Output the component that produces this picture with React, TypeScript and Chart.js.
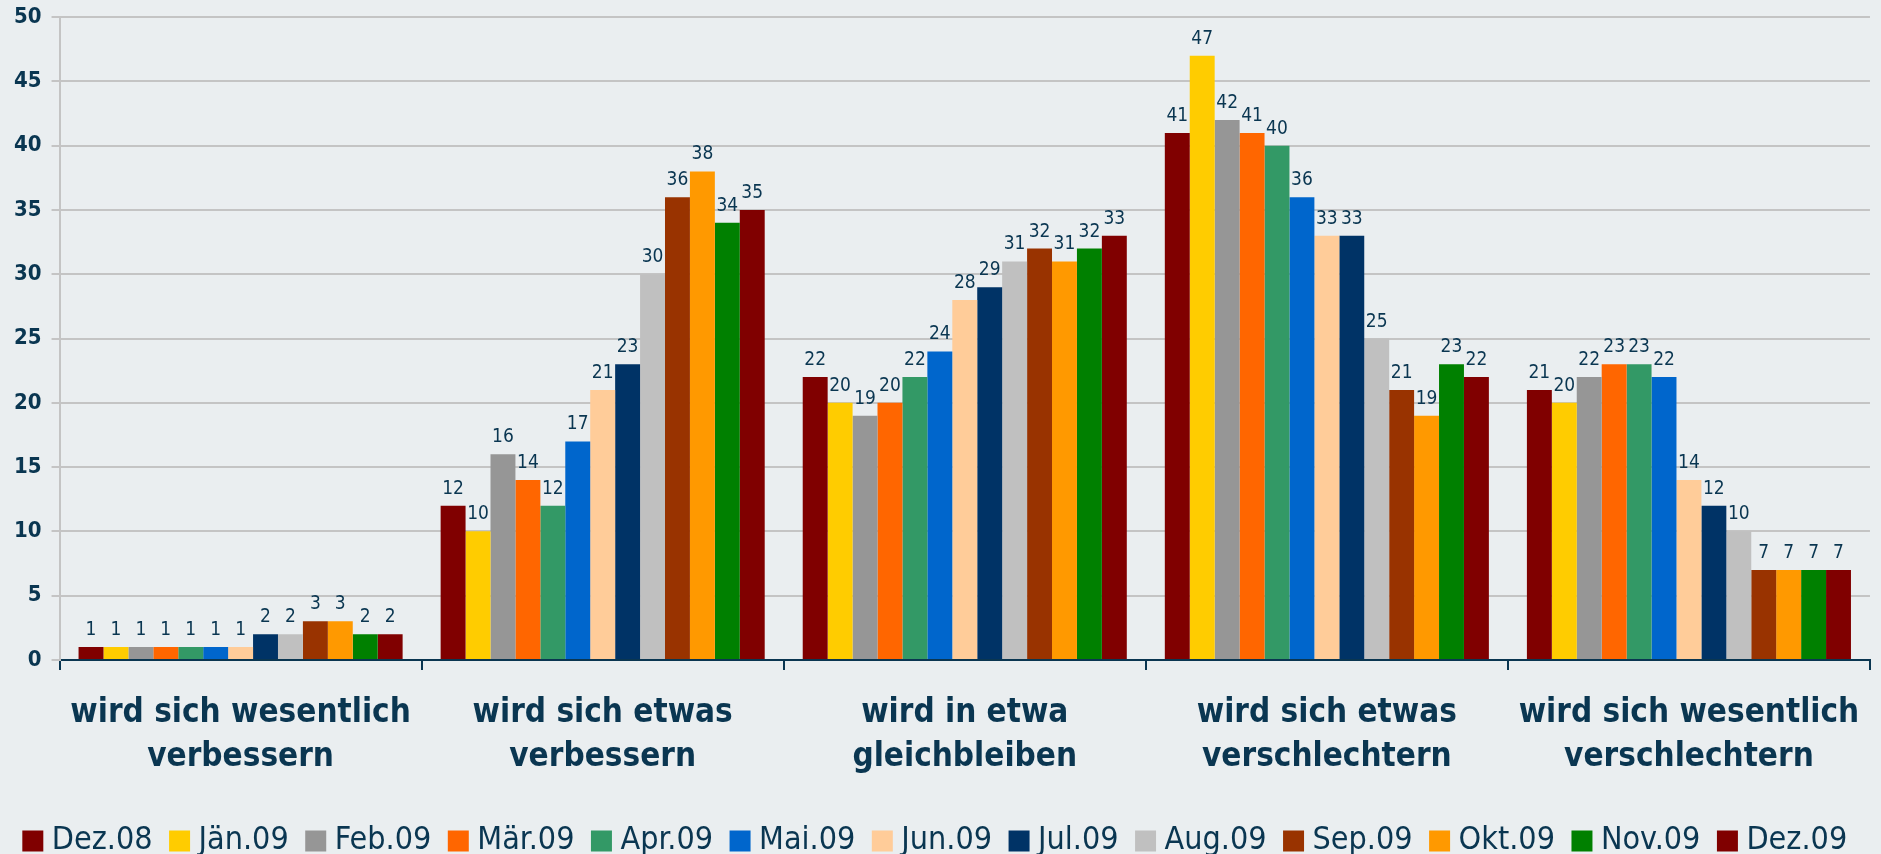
import React, { useEffect, useRef } from "react";
import { Chart, registerables } from "chart.js";

Chart.register(...registerables);

const categories: string[][] = [
  ["wird sich wesentlich", "verbessern"],
  ["wird sich etwas", "verbessern"],
  ["wird in etwa", "gleichbleiben"],
  ["wird sich etwas", "verschlechtern"],
  ["wird sich wesentlich", "verschlechtern"],
];

const seriesNames = [
  "Dez.08", "Jän.09", "Feb.09", "Mär.09", "Apr.09", "Mai.09", "Jun.09",
  "Jul.09", "Aug.09", "Sep.09", "Okt.09", "Nov.09", "Dez.09",
];

const seriesColors = [
  "#800000", "#FFCC00", "#969696", "#FF6600", "#339966", "#0066CC", "#FFCC99",
  "#003366", "#C0C0C0", "#993300", "#FF9900", "#008000", "#800000",
];

// values per series, in category order
const dez08 = [1, 12, 22, 41, 21];
const jan09 = [1, 10, 20, 47, 20];
const feb09 = [1, 16, 19, 42, 22];
const mar09 = [1, 14, 20, 41, 23];
const apr09 = [1, 12, 22, 40, 23];
const mai09 = [1, 17, 24, 36, 22];
const jun09 = [1, 21, 28, 33, 14];
const jul09 = [2, 23, 29, 33, 12];
const aug09 = [2, 30, 31, 25, 10];
const sep09 = [3, 36, 32, 21, 7];
const okt09 = [3, 38, 31, 19, 7];
const nov09 = [2, 34, 32, 23, 7];
const dez09 = [2, 35, 33, 22, 7];

const seriesValues = [dez08, jan09, feb09, mar09, apr09, mai09, jun09, jul09, aug09, sep09, okt09, nov09, dez09];

const yMin = 0;
const yMax = 50;
const yStep = 5;

const TEXT = "#0a3651";
const BG = "#eaeef0";
const GRID = "#c4c4c4";
const FONT = '"DejaVu Sans Condensed", "DejaVu Sans", sans-serif';

const valueLabels = {
  id: "valueLabels",
  afterDatasetsDraw(chart: any) {
    const ctx = chart.ctx;
    ctx.save();
    ctx.font = `19px ${FONT}`;
    ctx.fillStyle = TEXT;
    ctx.textAlign = "center";
    ctx.textBaseline = "alphabetic";
    chart.data.datasets.forEach((ds: any, i: number) => {
      const meta = chart.getDatasetMeta(i);
      meta.data.forEach((el: any, j: number) => {
        ctx.fillText(String(ds.data[j]), el.x, el.y - 12);
      });
    });
    ctx.restore();
  },
};

export default function App() {
  const ref = useRef<HTMLCanvasElement>(null);

  useEffect(() => {
    if (!ref.current) return;
    const chart = new Chart(ref.current, {
      type: "bar",
      data: {
        labels: categories,
        datasets: seriesNames.map((name, i) => ({
          label: name,
          data: seriesValues[i],
          backgroundColor: seriesColors[i],
          borderWidth: 0,
          pointStyle: "rect",
          categoryPercentage: 0.895,
          barPercentage: 1.0,
        })),
      },
      options: {
        animation: false,
        responsive: true,
        maintainAspectRatio: false,
        layout: { padding: { top: 1, right: 8, bottom: -13, left: 4 } },
        plugins: {
          tooltip: { enabled: false },
          legend: {
            position: "bottom",
            labels: {
              usePointStyle: true,
              boxWidth: 6,
              boxHeight: 21,
              padding: 24,
              color: TEXT,
              font: { family: FONT, size: 32 },
            },
          },
        },
        scales: {
          x: {
            grid: {
              offset: true,
              drawOnChartArea: false,
              drawTicks: true,
              tickLength: 10,
              color: TEXT,
              lineWidth: 2,
            },
            border: { color: TEXT, width: 2 },
            ticks: {
              color: TEXT,
              font: { family: FONT, size: 33, weight: "bold", lineHeight: 1.35 },
              padding: 21,
              maxRotation: 0,
              autoSkip: false,
            },
          },
          y: {
            min: yMin,
            max: yMax,
            ticks: {
              stepSize: yStep,
              color: TEXT,
              padding: 10,
              font: { family: FONT, size: 22, weight: "bold" },
            },
            grid: { color: GRID, lineWidth: 2, tickLength: 8 },
            border: { color: GRID, width: 2 },
          },
        },
      },
      plugins: [valueLabels],
    });
    return () => chart.destroy();
  }, []);

  return (
    <div
      style={{
        position: "fixed",
        left: 0,
        top: "-6px",
        width: "1881px",
        height: "860px",
        background: BG,
      }}
    >
      <canvas ref={ref} />
    </div>
  );
}
